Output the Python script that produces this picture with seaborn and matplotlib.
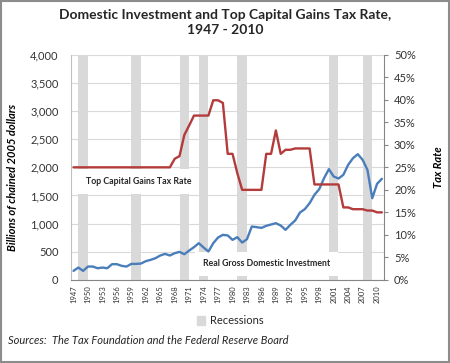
import matplotlib
matplotlib.use('Agg')
import matplotlib.pyplot as plt
import matplotlib.patches as mpatches
from matplotlib.ticker import FuncFormatter
import pandas as pd
import seaborn as sns

sns.set_style("white")
plt.rcParams['font.family'] = ['Lato', 'DejaVu Sans']

# data
years = list(range(1947, 2012))
investment = [160, 219, 160, 237, 237, 207, 219, 207, 279, 279,
              249, 237, 284, 284, 290, 332, 356, 385, 433, 462,
              433, 474, 498, 456, 521, 581, 652, 575, 504, 652,
              753, 800, 790, 711, 759, 663, 723, 948, 937, 924,
              960, 984, 1008, 966, 889, 978, 1055, 1197, 1257, 1363,
              1511, 1613, 1808, 1968, 1837, 1801, 1867, 2045, 2163, 2234,
              2134, 1956, 1452, 1707, 1796]
tax_rate = [25] * 21 + [26.9, 27.5, 32.2, 34.3, 36.5, 36.5, 36.5, 36.5, 39.9, 39.9,
                        39.3, 28, 28, 23.7, 20, 20, 20, 20, 20, 28,
                        28, 33.2, 28, 28.9, 28.9, 29.2, 29.2, 29.2, 29.2, 21.2,
                        21.2, 21.2, 21.2, 21.2, 21.2, 16.1, 16.1, 15.7, 15.7, 15.7,
                        15.4, 15.4, 15.0, 15.0]
recession_years = [1949, 1960, 1970, 1974, 1982, 2001, 2008]
tick_years = list(range(1947, 2011, 3))
inv_max = 4000
tax_max = 50

df = pd.DataFrame({'year': years, 'investment': investment, 'tax_rate': tax_rate})

grey = '#d9d9d9'
blue = '#4a7ebb'
red = '#b33b3b'
txt = '#333333'

fig = plt.figure(figsize=(4.5, 3.63), dpi=100)
ax = fig.add_axes([0.158, 0.229, 0.696, 0.620])
ax2 = ax.twinx()

# recession columns
ax.bar(recession_years, [inv_max] * len(recession_years), width=1.95,
       color=grey, zorder=1, linewidth=0)

sns.lineplot(data=df, x='year', y='investment', ax=ax, color=blue, lw=1.7, zorder=5)
sns.lineplot(data=df, x='year', y='tax_rate', ax=ax2, color=red, lw=1.7, zorder=5)

ax.set_xlim(1946.5, 2011.5)
ax.set_ylim(0, inv_max)
ax2.set_ylim(0, tax_max)

ax.set_yticks(range(0, inv_max + 1, 500))
ax.yaxis.set_major_formatter(FuncFormatter(lambda v, p: f'{int(v):,}'))
ax2.set_yticks(range(0, tax_max + 1, 5))
ax2.yaxis.set_major_formatter(FuncFormatter(lambda v, p: f'{int(v)}%'))
ax.yaxis.grid(True, color=grey, lw=0.8)
ax.set_axisbelow(True)

ax.set_xticks(tick_years)
ax.set_xticklabels([str(y) for y in tick_years], rotation=90, fontsize=5.5, color=txt)
ax.tick_params(axis='x', length=0, pad=4)
ax.tick_params(axis='y', length=0, pad=9, labelsize=8, labelcolor=txt)
ax2.tick_params(axis='y', length=3, width=0.8, color='#868686', pad=4,
                labelsize=8, labelcolor=txt)

for s in ['top', 'right']:
    ax.spines[s].set_visible(False)
for s in ['top', 'left', 'bottom']:
    ax2.spines[s].set_visible(False)
ax.spines['left'].set_color('#bfbfbf')
ax.spines['bottom'].set_color('#868686')
ax2.spines['right'].set_color('#868686')

ax.set_xlabel('')
ax.set_ylabel('Billions of chained 2005 dollars', fontsize=8, fontweight='bold',
              style='italic', color='black')
ax.yaxis.set_label_coords(-0.17, 0.455)
ax2.set_ylabel('Tax Rate', fontsize=8, fontweight='bold', style='italic', color='black')
ax2.yaxis.set_label_coords(1.155, 0.5)

# series labels in white boxes
box = dict(boxstyle='square,pad=0.9', fc='white', ec='none')
ax.text(1949.6, 1742, 'Top Capital Gains Tax Rate', fontsize=6.3, fontweight='bold',
        va='center', ha='left', bbox=box, zorder=4)
ax.text(1987.0, 284, 'Real Gross Domestic Investment', fontsize=6.3, fontweight='bold',
        va='center', ha='center', bbox=box, zorder=4)

fig.suptitle('Domestic Investment and Top Capital Gains Tax Rate,\n1947 - 2010',
             x=0.5, y=1 - 9 / 363, va='top', fontsize=10, fontweight='bold',
             linespacing=1.25)

fig.legend(handles=[mpatches.Patch(color=grey, label='Recessions')], loc='center',
           bbox_to_anchor=(230 / 450, 1 - 321 / 363), frameon=False, fontsize=8,
           handlelength=0.8, handleheight=0.8, handletextpad=0.4)

fig.text(8 / 450, 1 - 341 / 363, 'Sources:  The Tax Foundation and the Federal Reserve Board',
         style='italic', fontsize=8, va='center', ha='left')

fig.add_artist(mpatches.Rectangle((0.002, 0.002), 0.996, 0.996, transform=fig.transFigure,
                                  fill=False, ec='#8c8c8c', lw=1.5))

fig.savefig('out.png', dpi=100)
